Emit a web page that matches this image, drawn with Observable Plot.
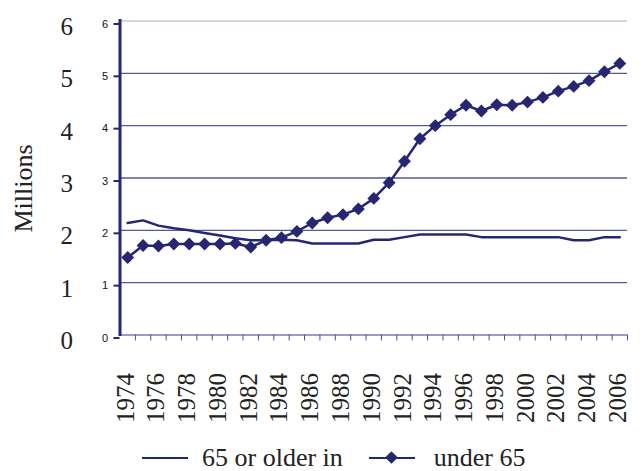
<!DOCTYPE html>
<html>
<head>
<meta charset="utf-8">
<script src="https://cdn.jsdelivr.net/npm/d3@7"></script>
<script src="https://cdn.jsdelivr.net/npm/@observablehq/plot@0.6"></script>
<style>
  html, body { margin: 0; padding: 0; background: #fff; }
  #chart { width: 640px; }
  .legend { display: flex; align-items: center; height: 26px; padding-top: 5px; font-family: "Liberation Serif", "Times New Roman", serif; font-size: 26px; line-height: 26px; color: #222; white-space: nowrap; }
  .legend .item { display: flex; align-items: center; }
  .swatch { display: inline-block; width: 46px; height: 2.5px; background: #1f2a6b; position: relative; }
  .swatch .dia { position: absolute; left: 18px; top: -4px; width: 9px; height: 9px; background: #1f2a6b; transform: rotate(45deg); }
</style>
</head>
<body>
<div id="chart"></div>
<script>
const years = d3.range(1974, 2007);
const older65 = [2.14,2.19,2.09,2.04,2.00,1.95,1.90,1.85,1.81,1.81,1.82,1.81,1.75,1.75,1.75,1.75,1.82,1.82,1.87,1.92,1.92,1.92,1.92,1.87,1.87,1.87,1.87,1.87,1.87,1.81,1.81,1.87,1.87];
const under65 = [1.48,1.71,1.70,1.74,1.74,1.74,1.74,1.75,1.68,1.81,1.86,1.98,2.14,2.24,2.30,2.41,2.61,2.91,3.32,3.75,4.00,4.21,4.39,4.28,4.40,4.39,4.45,4.54,4.66,4.75,4.86,5.03,5.19];
const yTicks = [0,1,2,3,4,5,6];
const xLabels = d3.range(1974, 2007, 2);
const seriesNames = ["65 or older in", "under 65"];
const yTitle = "Millions";

const navy = "#262673";
const older = years.map((y, i) => ({year: y, value: older65[i]}));
const under = years.map((y, i) => ({year: y, value: under65[i]}));
const bounds = years.map(y => y - 0.5).concat([years[years.length - 1] + 0.5]);
const serif = "Liberation Serif, Times New Roman, serif";
const sans = "Liberation Sans, Arial, sans-serif";
const fmt = d => String(d);

const chart = Plot.plot({
  width: 640,
  height: 440,
  marginLeft: 119.5,
  marginRight: 13,
  marginTop: 20.5,
  marginBottom: 105.5,
  x: {type: "linear", domain: [bounds[0], bounds[bounds.length - 1]], axis: null},
  y: {domain: [0, 6], axis: null},
  marks: [
    Plot.ruleY(yTicks.filter(v => v > 0 && v < 6), {stroke: "#55599a", strokeWidth: 1.3}),
    Plot.ruleY([6], {stroke: "#c4c4da", strokeWidth: 1.5}),
    Plot.ruleY([0], {stroke: "#7a7cb0", strokeWidth: 1.3}),
    Plot.ruleX(bounds.slice(1), {y1: 0, y2: 0, insetBottom: -6, stroke: "#4a4ea0", strokeWidth: 1}),
    Plot.ruleX([bounds[0]], {stroke: navy, strokeWidth: 3, insetTop: -1.5, insetBottom: -1.5}),
    Plot.axisY({ticks: yTicks, tickFormat: fmt, label: null, tickSize: 6, tickPadding: 6, stroke: navy, strokeWidth: 2, fontSize: 11, fontFamily: sans, fill: "#111", dy: 3}),
    Plot.axisY({ticks: yTicks, tickFormat: fmt, label: null, tickSize: 0, tickPadding: 47, fontSize: 25, fontFamily: serif, fill: "#222", dy: 6}),
    Plot.text([yTitle], {frameAnchor: "left", textAnchor: "middle", rotate: -90, dx: -96.5, dy: 10.5, fontSize: 26, fontFamily: serif, fill: "#222"}),
    Plot.axisX({ticks: xLabels, tickFormat: fmt, label: null, tickSize: 0, tickPadding: 38, tickRotate: -90, fontSize: 25, fontFamily: serif, fill: "#222", dx: -2}),
    Plot.line(older, {x: "year", y: "value", stroke: navy, strokeWidth: 2.5}),
    Plot.line(under, {x: "year", y: "value", stroke: navy, strokeWidth: 2.5}),
    Plot.dot(under, {x: "year", y: "value", symbol: "diamond2", r: 5.8, fill: navy, stroke: "none"})
  ]
});
document.getElementById("chart").append(chart);

const legend = document.createElement("div");
legend.className = "legend";
legend.innerHTML = `
  <span style="width:142px;display:inline-block"></span>
  <span class="item"><span class="swatch" style="margin-right:14px"></span>${seriesNames[0]}</span>
  <span style="width:26px;display:inline-block"></span>
  <span class="item"><span class="swatch" style="margin-right:19px"><span class="dia"></span></span>${seriesNames[1]}</span>`;
document.getElementById("chart").append(legend);
</script>
</body>
</html>
